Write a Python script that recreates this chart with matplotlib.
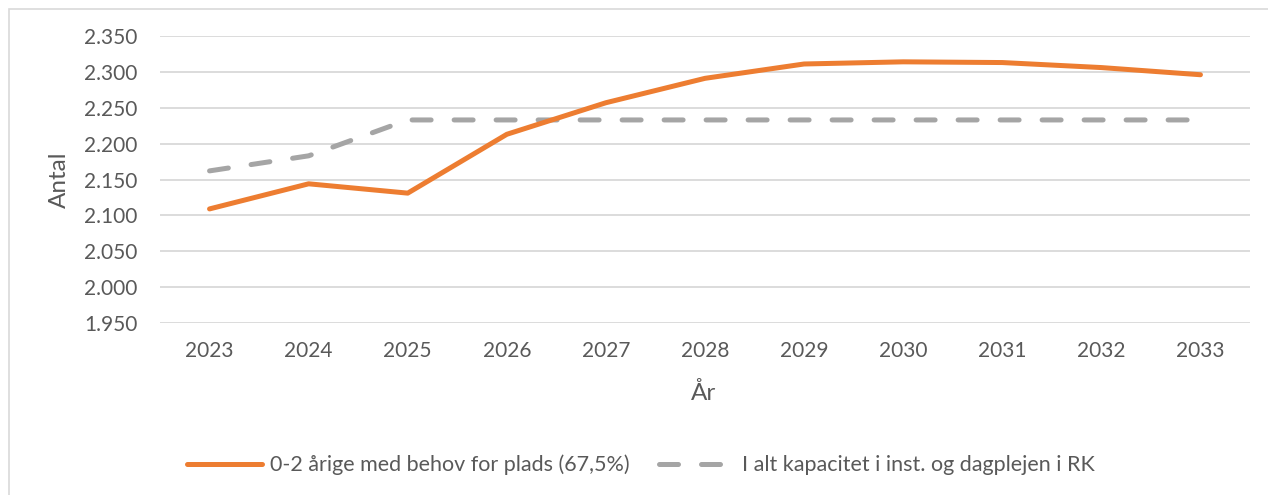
import matplotlib.pyplot as plt
from matplotlib.patches import Rectangle

years = ['2023', '2024', '2025', '2026', '2027', '2028', '2029', '2030', '2031', '2032', '2033']
behov = [2109, 2144, 2131, 2213, 2257, 2291, 2311, 2314, 2313, 2306, 2296]
kapacitet = [2162, 2183, 2233, 2233, 2233, 2233, 2233, 2233, 2233, 2233, 2233]
yticks = [1950, 2000, 2050, 2100, 2150, 2200, 2250, 2300, 2350]

plt.rcParams['font.family'] = ['Lato', 'DejaVu Sans']
txt_col = '#595959'
grid_col = '#D9D9D9'
W, H = 1268, 495

fig = plt.figure(figsize=(12.68, 4.95), dpi=100)
ax = fig.add_axes([160 / W, 1 - 323 / H, 1090 / W, 287 / H])

# outer chart frame (runs off the right and bottom edges)
fig.patches.append(Rectangle((9 / W, -0.1), 1.2, 1 - 9 / H + 0.1, transform=fig.transFigure,
                             fill=False, edgecolor=grid_col, linewidth=1.2, zorder=0))

x = list(range(len(years)))
ax.plot(x, behov, color='#ED7D31', linewidth=3.6, solid_capstyle='round',
        label='0-2 årige med behov for plads (67,5%)', zorder=3)
ax.plot(x, kapacitet, color='#A5A5A5', linewidth=3.6, linestyle=(0, (3.8, 4.6)),
        dash_capstyle='round', label='I alt kapacitet i inst. og dagplejen i RK', zorder=2)

ax.set_xlim(-0.5, len(years) - 0.5)
ax.set_ylim(1950, 2350)
ax.set_xticks(x)
ax.set_xticklabels(years)
ax.set_yticks(yticks)
ax.set_yticklabels([f'{v / 1000:.3f}' for v in yticks])
ax.tick_params(length=0, labelsize=15, colors=txt_col)
ax.tick_params(axis='y', pad=16)
ax.tick_params(axis='x', pad=13)
for s in ax.spines.values():
    s.set_visible(False)
ax.grid(axis='y', color=grid_col, linewidth=1.3)
ax.set_axisbelow(True)

fig.text(59 / W, 1 - 180 / H, 'Antal', rotation=90, ha='center', va='center',
         fontsize=17.5, color=txt_col)
fig.text(704 / W, 1 - 393 / H, 'År', ha='center', va='center', fontsize=17.5, color=txt_col)

fig.legend(loc='center', bbox_to_anchor=(641 / W, 1 - 465 / H), ncol=2, frameon=False,
           fontsize=15.5, labelcolor=txt_col, handlelength=3.5, handletextpad=0.35,
           columnspacing=1.4)

fig.savefig('out.png', dpi=100)
